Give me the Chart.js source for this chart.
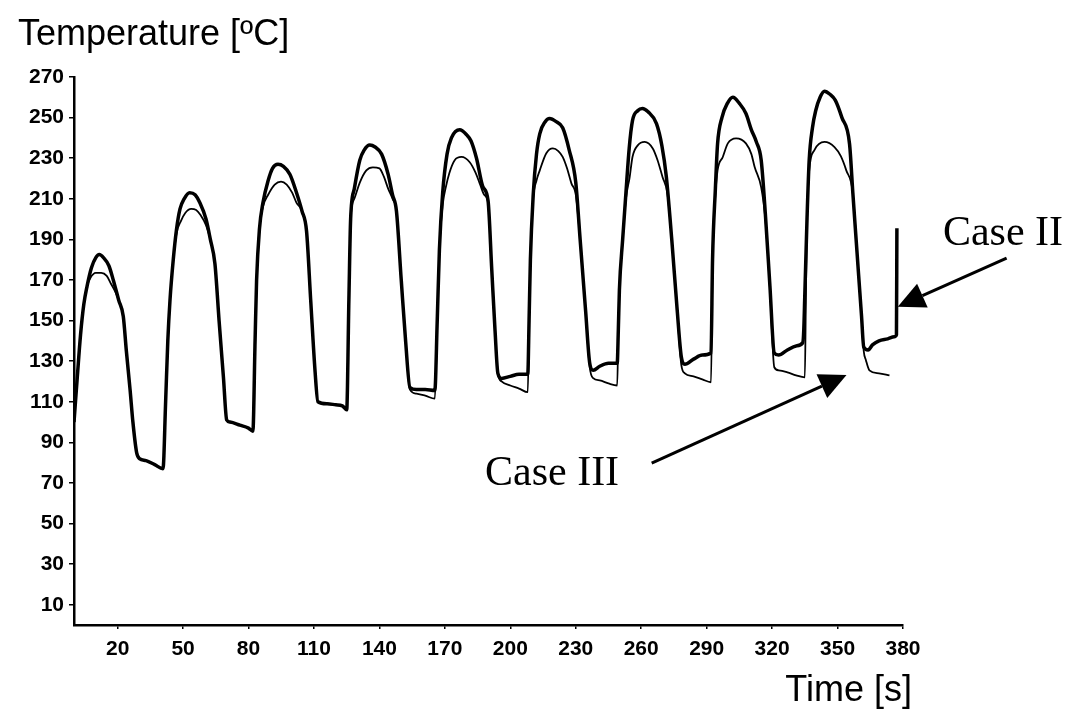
<!DOCTYPE html>
<html>
<head>
<meta charset="utf-8">
<script src="https://cdn.jsdelivr.net/npm/chart.js@4.4.1/dist/chart.umd.min.js"></script>
<style>
  html, body { margin: 0; padding: 0; background: #fff; }
  #wrap { width: 1089px; height: 711px; }
</style>
</head>
<body>
<div id="wrap"><canvas id="myChart" width="1089" height="711"></canvas></div>
<script>
// axis ticks
const xTicks = [20, 50, 80, 110, 140, 170, 200, 230, 260, 290, 320, 350, 380];
const yTicks = [10, 30, 50, 70, 90, 110, 130, 150, 170, 190, 210, 230, 250, 270];

// Case II (thick line)
const timeII = [0,1.5,3,4.5,6,8,10,11.6,13.5,16,18,20.5,22.6,24,25.7,27,28.7,30,33,37,40.8,
  42,43,44,45.5,47,48.6,50.5,53,55.5,57.7,60.5,62.5,64.6,66.5,68.5,70,71.5,76,80,82,
  83,83.7,85,86.6,89,91,93.5,96,99,102,104.5,106.6,108.5,110.5,111.8,116,120,123,125,
  126,126.8,128.5,131,133,135.6,138,141,144,146,147.8,150,152,154,157,161,165.4,
  166.5,167.5,169,171,173,176.8,180,182,184.5,187.4,189.8,191.5,193,194.3,196,200,204,208,
  208.6,209.2,210.5,212,213.5,216,218,221,224,227,230,232,234.5,236.4,238,241,245,249,
  249.5,250,251.5,253,254.5,256,258.5,260.6,263,267,269.5,271.5,274,276.5,278.4,280,284,288,292,
  292.7,294,295,297,299.5,302,305,308,310.5,312.8,315,317,319,321,323,327,331,334,
  334.5,335,336,337,338.5,340,342,344,346.5,349,352,355.5,357,359,361,362,364,366,369,373,376,377,377.2];
const tempII = [100,122,143,158,167,176,181,182.5,181,177,170,160,152,135,116,100,85,82,81,79,77,
  110,140,160,180,195,205,210,213,212,208,200,190,178,150,122,101,100,98.5,97,95.5,
  140,170,195,208,219,225,227,226,222,213,204,194,160,125,110,109,108.5,108,106,
  160,200,215,229,234,236.5,235.5,232,222,212,204,170,140,117,116,116,115.5,
  150,185,213,232,240,244,241.5,238.5,230,216,209,175,145,124,121.5,122.5,123.5,123.5,
  150,180,212,232,242,248,249.5,248,245,234,218,190,155,129,125.5,127.5,129,129,
  145,165,190,213,235,248.5,253.5,254.5,253,247,236,221,190,155,132,128.5,131,133,134,
  180,215,237,250,257,260,257,252,244,238,229,201,167,134,133,135.5,137.5,139,
  145,163,200,229,245,253.5,260,263,261.5,258.5,250,237,213,182.5,152,137,135.5,138,140,141,142,143,195.5];

// Case III (thin line)
const timeIII = [0,1.5,3,4.5,6,7.5,10,12.5,15,17,19,20.5,22.6,24,25.7,27,28.7,30,33,37,40.8,
  42,43,44,45.5,47,49,51,53.7,56,58,60.5,62.5,64.6,66.5,68.5,70,71.5,76,80,82,
  83,83.7,85,86.6,89,92,94.9,97.5,100,102,104.5,106.6,108.5,110.5,111.8,116,120,123,125,
  126,126.8,128.5,131,134,137,140,142,144,146,147.8,150,152,154,157,161,165.4,
  166.5,167.5,169,170.5,172,174.5,177.6,181.4,184,186,188,189.8,191.5,193,194.3,196,200,204,208,
  208.6,209.2,210.5,212,213.5,216.5,219.5,222,224,226,228,230,232,234.5,236.4,238,241,245,249,
  249.5,250,251.5,253,254.7,256,258.4,261.6,265.3,267.5,269.8,272,274,276.5,278.4,280,284,288,292,
  292.7,294,295,297.4,299.7,303.5,308,310.5,312,315,317,319,321,323,327,331,335,
  335.5,336,337,339.4,344,348.6,351.5,354,357,359,361,362,363,364.6,369,373.8];
const tempIII = [100,122,143,158,167,171,173.5,173.5,172,168,164,160,152,135,116,100,85,82,81,79,77,
  110,140,160,180,193,199,203,205,204.5,202,197,190,178,150,122,101,100,98.5,97,95.5,
  140,170,195,206,212,217,218.5,217,213,208,204,194,160,125,110,109,108.5,108,106,
  160,200,210,218,224,225.5,225,221,215,210,204,170,140,116,114,113,111.5,
  150,185,207,216,222.5,229,230.6,228,223,217.5,212,208,175,145,124,120,118,116.5,114.7,
  150,180,210,219,224,232.4,234.8,233.5,230.6,225,217.6,212,190,155,127,121.6,120.5,119,118,
  145,165,190,210,220.6,230.6,236.3,238,234.8,229,220.6,212.7,190,155,128,124,122.5,121,119.6,
  180,212,224,230.6,237.3,239.8,237.3,232,225.6,215.6,199,166,127,125.5,124.5,123,122,
  163,200,224,234,238,235.5,231,224,212.7,182,152,135,130.5,125.5,124,123];

const toPoints = (xs, ys) => xs.map((t, i) => ({ x: t, y: ys[i] }));

const sans = '"Liberation Sans", Arial, sans-serif';
const serif = '"Liberation Serif", "Times New Roman", serif';

function arrow(ctx, x0, y0, x1, y1) {
  const a = Math.atan2(y1 - y0, x1 - x0);
  const len = 27, half = 13;
  const bx = x1 - len * Math.cos(a), by = y1 - len * Math.sin(a);
  ctx.lineWidth = 3;
  ctx.beginPath();
  ctx.moveTo(x0, y0);
  ctx.lineTo(bx, by);
  ctx.stroke();
  ctx.beginPath();
  ctx.moveTo(x1, y1);
  ctx.lineTo(bx + half * Math.sin(a), by - half * Math.cos(a));
  ctx.lineTo(bx - half * Math.sin(a), by + half * Math.cos(a));
  ctx.closePath();
  ctx.fill();
}

// titles and the two labelled arrows
const notes = {
  id: 'notes',
  afterDraw(chart) {
    const ctx = chart.ctx;
    const x = chart.scales.x, y = chart.scales.y;
    const px = v => x.getPixelForValue(v);
    const py = v => y.getPixelForValue(v);
    ctx.save();
    ctx.fillStyle = '#000';
    ctx.strokeStyle = '#000';
    ctx.textBaseline = 'alphabetic';

    ctx.font = '36px ' + sans;
    ctx.textAlign = 'left';
    ctx.fillText('Temperature [ºC]', 18, 45);
    ctx.textAlign = 'right';
    ctx.fillText('Time [s]', 912, 701);

    ctx.font = '42px ' + serif;
    ctx.textAlign = 'left';
    ctx.fillText('Case II', px(398.3), py(187.2));
    ctx.fillText('Case III', px(188.4), py(69));

    arrow(ctx, px(427.5), py(180.8), px(377.6), py(156.8));
    arrow(ctx, px(264.8), py(79.8), px(354.1), py(123.2));
    ctx.restore();
  }
};

const ctx = document.getElementById('myChart');

new Chart(ctx, {
  type: 'line',
  data: {
    datasets: [{
      label: 'Case II',
      data: toPoints(timeII, tempII),
      borderColor: '#000',
      borderWidth: 3.5,
      pointRadius: 0,
      cubicInterpolationMode: 'monotone',
      fill: false
    }, {
      label: 'Case III',
      data: toPoints(timeIII, tempIII),
      borderColor: '#000',
      borderWidth: 1.8,
      pointRadius: 0,
      cubicInterpolationMode: 'monotone',
      fill: false
    }]
  },
  options: {
    responsive: false,
    animation: false,
    layout: { padding: { top: 77, left: 0, right: 186, bottom: 0 } },
    plugins: {
      legend: { display: false },
      tooltip: { enabled: false }
    },
    scales: {
      x: {
        type: 'linear',
        min: 0,
        max: 380,
        afterBuildTicks: s => { s.ticks = xTicks.map(v => ({ value: v })); },
        afterFit: s => { s.height = 86; },
        grid: { drawOnChartArea: false, drawTicks: true, tickLength: 4, color: '#000', lineWidth: 1.5 },
        border: { display: true, color: '#000', width: 2.5 },
        ticks: { color: '#000', padding: 8, maxRotation: 0, font: { family: sans, size: 21, weight: 'bold' } }
      },
      y: {
        type: 'linear',
        min: 0,
        max: 270,
        afterBuildTicks: s => { s.ticks = yTicks.map(v => ({ value: v })); },
        afterFit: s => { s.width = 74; },
        grid: { drawOnChartArea: false, drawTicks: true, tickLength: 5, color: '#000', lineWidth: 1.5 },
        border: { display: true, color: '#000', width: 2.5 },
        ticks: { color: '#000', padding: 5, font: { family: sans, size: 21, weight: 'bold' } }
      }
    }
  },
  plugins: [notes]
});
</script>
</body>
</html>
